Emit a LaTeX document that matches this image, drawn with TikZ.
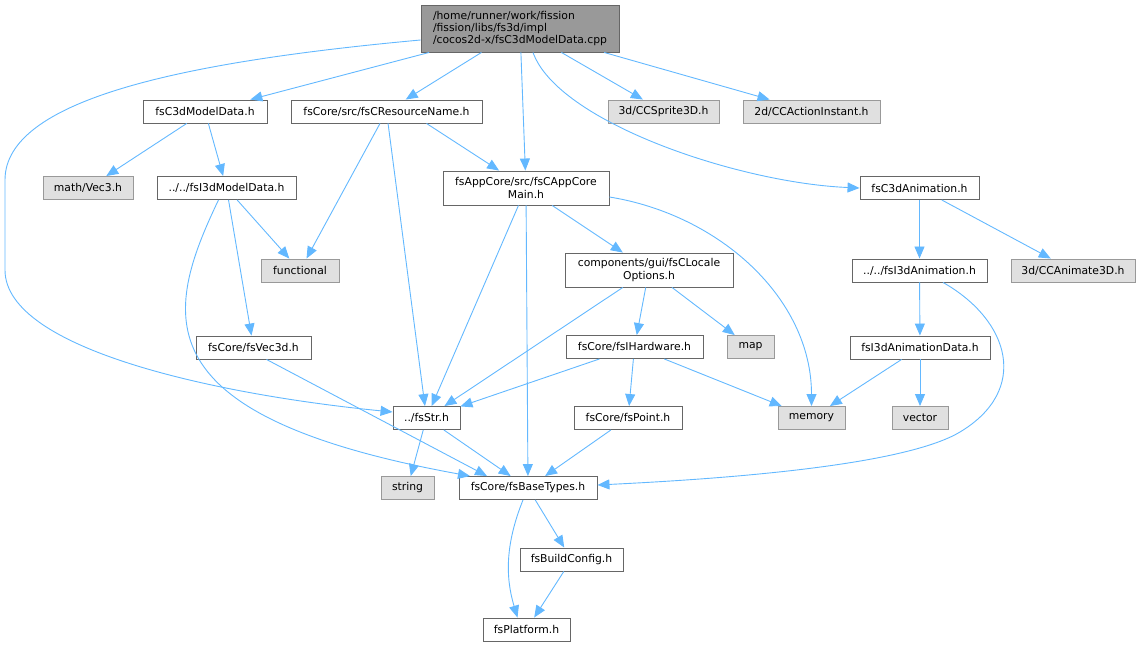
\documentclass[tikz,border=0pt]{standalone}
\usepackage{fontspec}
\setmainfont{DejaVu Sans}
\usetikzlibrary{arrows.meta}
\definecolor{inclblue}{HTML}{63B8FF}
\definecolor{boxline}{HTML}{666666}
\definecolor{sysline}{HTML}{999999}
\definecolor{sysfill}{HTML}{E0E0E0}
\definecolor{rootfill}{HTML}{999999}
\begin{document}
\begin{tikzpicture}[x=1pt, y=-1pt,
  file/.style={draw=boxline, fill=white, line width=0.9pt, minimum height=23pt, inner sep=0pt, font=\fontsize{10.8}{12.4}\selectfont},
  sys/.style={file, draw=sysline, fill=sysfill},
  incl/.style={draw=inclblue, line width=0.9pt, -{Triangle[length=12pt,width=10pt]}}]
\useasboundingbox (0,0) rectangle (1141,647);

\node[file, fill=rootfill, minimum width=198pt, minimum height=47pt, align=left] (root) at (520,28.5) {/home/runner/work/fission\\/fission/libs/fs3d/impl\\/cocos2d-x/fsC3dModelData.cpp};

\node[file, minimum width=124pt] (mdl) at (205,111.5) {fsC3dModelData.h};
\node[file, minimum width=191pt] (res) at (386.5,111.5) {fsCore/src/fsCResourceName.h};
\node[sys, minimum width=111pt] (spr) at (663.5,111.5) {3d/CCSprite3D.h};
\node[sys, minimum width=137pt] (act) at (811.5,111.5) {2d/CCActionInstant.h};

\node[sys, minimum width=90pt] (vec3) at (88,188) {math/Vec3.h};
\node[file, minimum width=139pt] (imdl) at (226.5,188) {../../fsI3dModelData.h};
\node[file, minimum width=166pt, minimum height=34pt, align=center] (app) at (526,188) {fsAppCore/src/fsCAppCore\\Main.h};
\node[file, minimum width=119pt] (anim) at (919.5,188) {fsC3dAnimation.h};

\node[sys, minimum width=78pt] (func) at (300,270.5) {functional};
\node[file, minimum width=168pt, minimum height=34pt, align=center] (loc) at (649,270) {components/gui/fsCLocale\\Options.h};
\node[file, minimum width=135pt] (ianim) at (919.5,270.5) {../../fsI3dAnimation.h};
\node[sys, minimum width=124pt] (ccanim) at (1073,270.5) {3d/CCAnimate3D.h};

\node[file, minimum width=115pt] (v3d) at (253.5,347.5) {fsCore/fsVec3d.h};
\node[file, minimum width=137pt] (hw) at (634.5,347) {fsCore/fsIHardware.h};
\node[sys, minimum width=47pt] (map) at (750.5,347) {map};
\node[file, minimum width=140pt] (ianimdata) at (920,347.5) {fsI3dAnimationData.h};

\node[file, minimum width=67pt] (str) at (426.5,418) {../fsStr.h};
\node[file, minimum width=108pt] (pt) at (628,418) {fsCore/fsPoint.h};
\node[sys, minimum width=67pt] (mem) at (811.5,418) {memory};
\node[sys, minimum width=56pt] (vec) at (920,418) {vector};

\node[sys, minimum width=53pt] (string) at (407.5,488) {string};
\node[file, minimum width=138pt] (base) at (528,488) {fsCore/fsBaseTypes.h};
\node[file, minimum width=103pt] (build) at (571.5,559.5) {fsBuildConfig.h};
\node[file, minimum width=87pt] (plat) at (526.5,629.5) {fsPlatform.h};

\draw[incl] (root) -- (mdl);
\draw[incl] (root) -- (res);
\draw[incl] (root) -- (app);
\draw[incl] (root) -- (spr);
\draw[incl] (root) -- (act);
\draw[incl] ([xshift=13pt]root.south) .. controls +(25,70) and +(-120,-5) .. (anim.west);
\draw[incl] ([yshift=-11.5pt]root.west) .. controls (180,62) and (5,100) .. (5,180) -- (5,270) .. controls (5,350) and (220,395) .. ([yshift=6pt]str.west);

\draw[incl] (mdl) -- (vec3);
\draw[incl] (mdl) -- (imdl);
\draw[incl] (res) -- (func);
\draw[incl] (res) -- (str);
\draw[incl] ([xshift=40pt]res.south) -- (app);

\draw[incl] (imdl) -- (func);
\draw[incl] (imdl) -- (v3d);
\draw[incl] ([xshift=-8pt]imdl.south) .. controls +(-55,115) and +(-330,-60) .. ([xshift=-58pt]base.north);

\draw[incl] (app) -- (str);
\draw[incl] (app) -- (base);
\draw[incl] (app) -- (loc);
\draw[incl] ([yshift=-9pt]app.east) .. controls +(111,18) and +(0,-107) .. (mem.north);

\draw[incl] (anim) -- (ianim);
\draw[incl] (anim) -- (ccanim);

\draw[incl] (loc) -- (str);
\draw[incl] (loc) -- (hw);
\draw[incl] (loc) -- (map);

\draw[incl] (ianim) -- (ianimdata);
\draw[incl] ([xshift=23.5pt]ianim.south) .. controls +(67,38) and (1030,390) .. (960,432) .. controls (900,468) and (700,480) .. ([yshift=3pt]base.east);

\draw[incl] ([xshift=13pt]v3d.south) -- ([xshift=-41pt]base.north);
\draw[incl] (hw) -- (str);
\draw[incl] (hw) -- (pt);
\draw[incl] (hw) -- (mem);
\draw[incl] (ianimdata) -- (mem);
\draw[incl] (ianimdata) -- (vec);

\draw[incl] (str) -- (string);
\draw[incl] (str) -- (base);
\draw[incl] (pt) -- (base);
\draw[incl] (base) -- (build);
\draw[incl] ([xshift=-5pt]base.south) .. controls +(-18,45) and +(-12,-40) .. ([xshift=-9pt]plat.north);
\draw[incl] (build) -- (plat);
\end{tikzpicture}
\end{document}
